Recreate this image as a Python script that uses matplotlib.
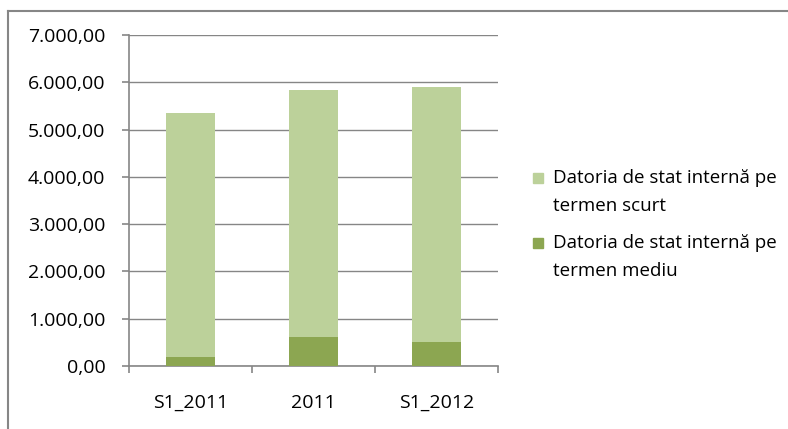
import numpy as np
import matplotlib.pyplot as plt
from matplotlib.lines import Line2D
from matplotlib.patches import Rectangle
from matplotlib.ticker import FuncFormatter

categories = ['S1_2011', '2011', 'S1_2012']
termen_mediu = [190, 610, 500]
termen_scurt = [5160, 5220, 5400]
labels = ['Datoria de stat internă pe\ntermen scurt',
          'Datoria de stat internă pe\ntermen mediu']

c_scurt = '#bcd19a'
c_mediu = '#8ca651'
grey = '#868686'

plt.rcParams['font.family'] = ['Open Sans', 'DejaVu Sans']

W, H = 788, 429
fig = plt.figure(figsize=(W / 100, H / 100), dpi=100)
ax = fig.add_axes([129 / W, 1 - 366 / H, (498 - 129) / W, (366 - 35) / H])

x = np.arange(len(categories))
ax.bar(x, termen_mediu, width=0.4, color=c_mediu, zorder=3)
ax.bar(x, termen_scurt, width=0.4, bottom=termen_mediu, color=c_scurt, zorder=3)

ax.set_xlim(-0.5, 2.5)
ax.set_ylim(0, 7000)
ax.set_yticks(np.arange(0, 7001, 1000))
ax.yaxis.set_major_formatter(FuncFormatter(
    lambda v, p: '{:,.2f}'.format(v).replace(',', 'X').replace('.', ',').replace('X', '.')))
ax.set_xticks([-0.5, 0.5, 1.5, 2.5])
ax.set_xticklabels([])
ax.set_xticks(x, minor=True)
ax.set_xticklabels(categories, minor=True)
ax.tick_params(axis='x', which='minor', length=0, pad=20, labelsize=14)
ax.tick_params(axis='x', which='major', length=5, color=grey, width=1.2)
ax.tick_params(axis='y', length=5, color=grey, width=1.2, labelsize=14, pad=12)
ax.grid(axis='y', color=grey, linewidth=1, zorder=0)
for s in ['top', 'right']:
    ax.spines[s].set_visible(False)
for s in ['left', 'bottom']:
    ax.spines[s].set_color(grey)
    ax.spines[s].set_linewidth(1.2)

# legend, drawn by hand so the swatch sits on the first line of each entry
for lab, col, y0 in zip(labels, [c_scurt, c_mediu], [178, 243]):
    fig.add_artist(Rectangle((533 / W, 1 - (y0 + 5) / H), 10 / W, 10 / H,
                             color=col, transform=fig.transFigure))
    for i, line in enumerate(lab.split('\n')):
        fig.text(553 / W, 1 - (y0 + i * 28) / H, line, fontsize=13.5,
                 va='center', ha='left')

# outer chart border
fig.add_artist(Line2D([8 / W, 8 / W], [0, 1 - 11 / H], color=grey, lw=1.5))
fig.add_artist(Line2D([8 / W, 1], [1 - 11 / H, 1 - 11 / H], color=grey, lw=1.5))

fig.savefig('out.png', dpi=100)
